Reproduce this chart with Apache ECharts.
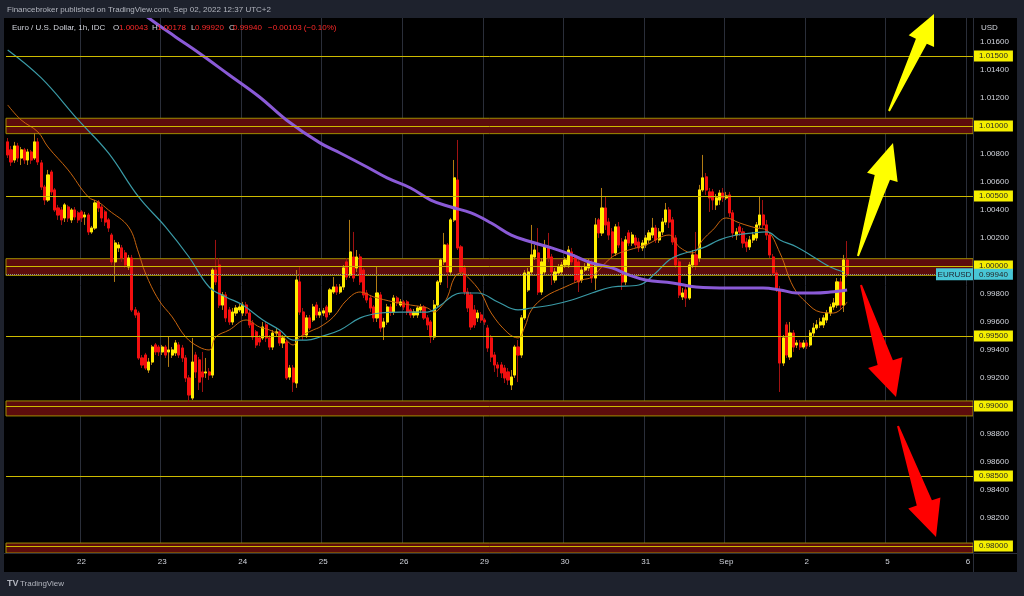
<!DOCTYPE html>
<html><head><meta charset="utf-8">
<script src="https://cdn.jsdelivr.net/npm/echarts@6/dist/echarts.min.js"></script>
<style>html,body{margin:0;padding:0;background:#1e222d;}#c{width:1024px;height:596px;}</style>
</head><body><div id="c"></div>
<script>
// ---- data ----
const dayLabels = ['19','22','23','24','25','26','29','30','31','Sep','2','5','6'];
const firstHour = 2;
const slotCount = 288;
// hourly candles: [open, close, low, high]
const eurusd = [
[1.00886,1.00793,1.00771,1.00914],[1.00829,1.00743,1.00714,1.00857],[1.00757,1.00857,1.00736,1.00886],[1.00857,1.00771,1.00743,1.00879],[1.00771,1.00829,1.00721,1.00850],
[1.00829,1.00757,1.00729,1.00843],[1.00757,1.00814,1.00721,1.00836],[1.00814,1.00757,1.00729,1.00829],[1.00771,1.00886,1.00757,1.00950],[1.00886,1.00743,1.00721,1.00914],
[1.00736,1.00564,1.00543,1.00757],[1.00564,1.00471,1.00436,1.00579],[1.00471,1.00650,1.00457,1.00686],[1.00671,1.00529,1.00507,1.00686],[1.00543,1.00400,1.00386,1.00557],
[1.00414,1.00364,1.00329,1.00436],[1.00400,1.00329,1.00293,1.00421],[1.00343,1.00436,1.00314,1.00450],[1.00421,1.00343,1.00314,1.00436],[1.00329,1.00400,1.00307,1.00414],
[1.00400,1.00350,1.00329,1.00421],[1.00379,1.00329,1.00307,1.00393],[1.00386,1.00343,1.00314,1.00400],[1.00350,1.00364,1.00293,1.00386],[1.00364,1.00243,1.00221,1.00379],
[1.00243,1.00271,1.00229,1.00286],[1.00271,1.00450,1.00257,1.00471],[1.00457,1.00414,1.00386,1.00471],[1.00421,1.00343,1.00314,1.00436],[1.00386,1.00314,1.00286,1.00400],
[1.00329,1.00271,1.00243,1.00343],[1.00221,1.00029,1.00007,1.00236],[1.00029,1.00164,0.99886,1.00186],[1.00129,1.00150,1.00100,1.00171],[1.00129,1.00057,1.00029,1.00150],
[1.00093,1.00007,0.99986,1.00114],[0.99993,1.00057,0.99971,1.00079],[1.00057,0.99686,0.99671,1.00079],[0.99686,0.99650,0.99629,0.99707],[0.99664,0.99343,0.99329,0.99679],
[0.99343,0.99293,0.99271,0.99364],[0.99364,0.99271,0.99257,0.99379],[0.99257,0.99314,0.99236,0.99343],[0.99314,0.99421,0.99293,0.99436],[0.99436,0.99386,0.99364,0.99450],
[0.99421,0.99386,0.99357,0.99436],[0.99386,0.99421,0.99364,0.99436],[0.99421,0.99364,0.99343,0.99436],[0.99386,0.99400,0.99279,0.99493],[0.99364,0.99400,0.99343,0.99421],
[0.99379,0.99450,0.99357,0.99471],[0.99436,0.99364,0.99343,0.99457],[0.99414,0.99343,0.99314,0.99436],[0.99343,0.99200,0.99171,0.99364],[0.99200,0.99079,0.99029,0.99221],
[0.99057,0.99314,0.99043,0.99486],[0.99364,0.99243,0.99200,0.99386],[0.99329,0.99171,0.99114,0.99350],[0.99243,0.99207,0.99100,0.99386],[0.99236,0.99243,0.99200,0.99343],
[0.99243,0.99221,0.99186,0.99271],[0.99221,0.99971,0.99200,0.99986],[0.99971,0.99886,0.99864,1.00186],[1.00007,0.99721,0.99700,1.00057],[0.99721,0.99793,0.99686,0.99814],
[0.99793,0.99629,0.99600,0.99814],[0.99686,0.99600,0.99579,0.99707],[0.99600,0.99671,0.99579,0.99700],[0.99664,0.99700,0.99643,0.99721],[0.99686,0.99707,0.99671,0.99729],
[0.99664,0.99721,0.99643,0.99743],[0.99721,0.99664,0.99643,0.99743],[0.99664,0.99579,0.99557,0.99686],[0.99593,0.99493,0.99471,0.99614],[0.99529,0.99436,0.99414,0.99543],
[0.99486,0.99457,0.99429,0.99507],[0.99486,0.99564,0.99471,0.99600],[0.99579,0.99486,0.99457,0.99600],[0.99486,0.99421,0.99400,0.99507],[0.99421,0.99521,0.99400,0.99543],
[0.99521,0.99529,0.99500,0.99557],[0.99529,0.99450,0.99429,0.99543],[0.99450,0.99486,0.99414,0.99507],[0.99457,0.99200,0.99186,0.99471],[0.99207,0.99271,0.99186,0.99293],
[0.99271,0.99171,0.99100,0.99293],[0.99164,0.99900,0.99129,0.99971],[0.99886,0.99671,0.99650,0.99993],[0.99671,0.99507,0.99471,0.99700],[0.99507,0.99629,0.99486,0.99650],
[0.99629,0.99557,0.99543,0.99650],[0.99614,0.99707,0.99600,0.99729],[0.99721,0.99650,0.99629,0.99743],[0.99650,0.99671,0.99629,0.99700],[0.99664,0.99679,0.99643,0.99700],
[0.99707,0.99636,0.99614,0.99721],[0.99671,0.99829,0.99650,0.99843],[0.99814,0.99850,0.99800,0.99921],[0.99850,0.99814,0.99793,0.99871],[0.99814,0.99850,0.99800,0.99871],
[0.99850,0.99986,0.99829,1.00007],[1.00029,0.99921,0.99900,1.00057],[0.99936,1.00100,0.99914,1.00329],[1.00064,0.99914,0.99886,1.00243],[0.99986,1.00064,0.99957,1.00114],
[1.00064,0.99886,0.99864,1.00086],[0.99971,0.99793,0.99771,0.99986],[0.99807,0.99757,0.99736,0.99829],[0.99771,0.99700,0.99671,0.99793],[0.99707,0.99629,0.99600,0.99721],
[0.99629,0.99807,0.99600,0.99993],[0.99793,0.99557,0.99529,0.99814],[0.99564,0.99600,0.99471,0.99629],[0.99600,0.99707,0.99579,0.99729],[0.99707,0.99671,0.99643,0.99729],
[0.99671,0.99771,0.99650,0.99793],[0.99771,0.99736,0.99714,0.99786],[0.99721,0.99743,0.99707,0.99764],[0.99743,0.99707,0.99686,0.99757],[0.99743,0.99671,0.99650,0.99757],
[0.99686,0.99650,0.99629,0.99700],[0.99650,0.99671,0.99629,0.99693],[0.99650,0.99700,0.99629,0.99714],[0.99686,0.99707,0.99664,0.99729],[0.99707,0.99629,0.99614,0.99721],
[0.99629,0.99579,0.99543,0.99650],[0.99600,0.99493,0.99450,0.99614],[0.99493,0.99721,0.99471,0.99757],[0.99721,0.99886,0.99700,0.99900],[0.99886,1.00043,0.99864,1.00057],
[1.00029,1.00150,1.00007,1.00236],[1.00150,0.99957,0.99843,1.00164],[0.99957,1.00329,0.99936,1.00343],[1.00329,1.00629,1.00314,1.00757],[1.00614,1.00129,1.00114,1.00900],
[1.00136,0.99957,0.99936,1.00150],[0.99986,0.99814,0.99793,1.00007],[0.99814,0.99700,0.99671,0.99843],[0.99793,0.99564,0.99543,0.99814],[0.99686,0.99579,0.99557,0.99721],
[0.99629,0.99664,0.99600,0.99686],[0.99650,0.99614,0.99593,0.99671],[0.99614,0.99600,0.99579,0.99629],[0.99557,0.99414,0.99386,0.99579],[0.99486,0.99350,0.99314,0.99507],
[0.99364,0.99293,0.99243,0.99386],[0.99293,0.99271,0.99207,0.99314],[0.99293,0.99236,0.99200,0.99314],[0.99271,0.99200,0.99164,0.99293],[0.99243,0.99186,0.99150,0.99271],
[0.99150,0.99207,0.99114,0.99257],[0.99221,0.99421,0.99200,0.99436],[0.99421,0.99364,0.99171,0.99471],[0.99364,0.99629,0.99343,0.99650],[0.99629,0.99950,0.99614,0.99971],
[0.99829,0.99957,0.99814,0.99986],[0.99957,1.00079,0.99936,1.00293],[1.00064,1.00114,1.00043,1.00150],[1.00093,0.99814,0.99793,1.00271],[0.99814,1.00029,0.99793,1.00057],
[0.99957,1.00136,0.99936,1.00186],[1.00136,1.00057,1.00029,1.00236],[1.00064,0.99957,0.99864,1.00086],[0.99900,0.99957,0.99879,0.99986],[0.99950,0.99993,0.99929,1.00014],
[0.99957,1.00007,0.99936,1.00029],[1.00007,1.00043,0.99986,1.00064],[1.00007,1.00114,0.99986,1.00143],[1.00100,1.00029,1.00007,1.00129],[1.00064,0.99900,0.99879,1.00086],
[1.00029,0.99886,0.99814,1.00057],[0.99900,0.99971,0.99879,1.00000],[0.99971,0.99993,0.99957,1.00021],[0.99986,1.00021,0.99964,1.00050],[1.00021,0.99914,0.99879,1.00043],
[0.99914,1.00293,0.99829,1.00343],[1.00329,1.00236,1.00200,1.00343],[1.00236,1.00414,1.00214,1.00557],[1.00414,1.00293,1.00257,1.00493],[1.00314,1.00221,1.00186,1.00343],
[1.00243,1.00093,1.00057,1.00271],[1.00093,1.00279,1.00071,1.00300],[1.00279,1.00150,1.00129,1.00314],[1.00171,0.99886,0.99829,1.00200],[0.99886,1.00186,0.99864,1.00214],
[1.00236,1.00164,1.00143,1.00257],[1.00164,1.00221,1.00143,1.00243],[1.00200,1.00150,1.00129,1.00221],[1.00171,1.00129,1.00100,1.00200],[1.00129,1.00164,1.00107,1.00186],
[1.00150,1.00200,1.00129,1.00221],[1.00186,1.00236,1.00164,1.00257],[1.00221,1.00271,1.00200,1.00343],[1.00271,1.00186,1.00164,1.00293],[1.00186,1.00243,1.00164,1.00271],
[1.00243,1.00314,1.00221,1.00343],[1.00314,1.00400,1.00293,1.00450],[1.00400,1.00314,1.00271,1.00421],[1.00329,1.00171,1.00150,1.00350],[1.00200,1.00007,0.99986,1.00221],
[1.00029,0.99793,0.99771,1.00057],[0.99779,0.99807,0.99757,0.99843],[0.99829,0.99771,0.99707,0.99857],[0.99771,1.00007,0.99757,1.00029],[1.00007,1.00079,0.99986,1.00114],
[1.00079,1.00007,0.99971,1.00243],[1.00057,1.00543,1.00029,1.00579],[1.00543,1.00629,1.00529,1.00793],[1.00636,1.00543,1.00507,1.00664],[1.00529,1.00486,1.00386,1.00557],
[1.00529,1.00471,1.00400,1.00550],[1.00436,1.00486,1.00400,1.00514],[1.00471,1.00521,1.00436,1.00543],[1.00521,1.00486,1.00457,1.00557],[1.00486,1.00500,1.00471,1.00529],
[1.00507,1.00379,1.00350,1.00529],[1.00379,1.00236,1.00200,1.00400],[1.00221,1.00243,1.00186,1.00271],[1.00279,1.00243,1.00214,1.00300],[1.00243,1.00164,1.00129,1.00271],
[1.00171,1.00136,1.00100,1.00200],[1.00136,1.00186,1.00114,1.00214],[1.00186,1.00221,1.00164,1.00243],[1.00200,1.00293,1.00179,1.00314],[1.00293,1.00364,1.00271,1.00493],
[1.00364,1.00293,1.00271,1.00471],[1.00293,1.00221,1.00186,1.00329],[1.00221,1.00079,1.00057,1.00243],[1.00064,0.99950,0.99929,1.00086],[0.99950,0.99843,0.99814,0.99971],
[0.99829,0.99307,0.99100,0.99857],[0.99307,0.99486,0.99286,0.99507],[0.99579,0.99364,0.99343,0.99600],[0.99350,0.99521,0.99329,0.99600],[0.99521,0.99421,0.99386,0.99543],
[0.99436,0.99450,0.99414,0.99471],[0.99450,0.99421,0.99400,0.99471],[0.99421,0.99450,0.99407,0.99471],[0.99450,0.99429,0.99407,0.99471],[0.99436,0.99521,0.99421,0.99543],
[0.99521,0.99557,0.99500,0.99593],[0.99557,0.99579,0.99543,0.99614],[0.99579,0.99600,0.99557,0.99629],[0.99579,0.99629,0.99557,0.99650],[0.99614,0.99664,0.99593,0.99686],
[0.99664,0.99707,0.99643,0.99729],[0.99707,0.99736,0.99686,0.99771],[0.99721,0.99886,0.99700,0.99914],[0.99886,0.99721,0.99686,0.99914],[0.99721,1.00043,0.99671,1.00079],
[1.00043,0.99940,0.99920,1.00178]
];
// moving averages: [bar index, value]
const maFast = [[0,1.0115],[4,1.01043],[9,1.00957],[12,1.0085],[18,1.00686],[24,1.00493],[27,1.00457],[30,1.004],[36,1.00279],[39,1.00093],[41,0.9995],[45,0.99757],[49,0.99636],[53,0.99493],[57,0.99421],[60,0.994],[62,0.99493],[66,0.99543],[71,0.99614],[75,0.99564],[78,0.99543],[82,0.99493],[85,0.99436],[87,0.99493],[91,0.99543],[93,0.99564],[97,0.99636],[101,0.99757],[105,0.99814],[109,0.99779],[115,0.99743],[120,0.99721],[125,0.997],[127,0.99671],[129,0.99707],[131,0.99779],[133,0.99914],[135,0.9995],[137,0.99921],[141,0.99807],[144,0.99664],[149,0.99521],[152,0.99486],[154,0.99564],[156,0.99686],[160,0.99779],[166,0.9985],[171,0.999],[174,0.99921],[178,1.00021],[181,1.00079],[185,1.00114],[190,1.0015],[197,1.00221],[200,1.00136],[204,1.00093],[207,1.00186],[210,1.00257],[214,1.00343],[218,1.00307],[223,1.00271],[226,1.00257],[230,1.00093],[234,0.9985],[238,0.99736],[242,0.99671],[246,0.99664],[250,0.99743]];
const maMid = [[0,1.01543],[10,1.01343],[21,1.01043],[30,1.00807],[39,1.00493],[47,1.00279],[54,1.00064],[60,0.9985],[65,0.99779],[70,0.99721],[76,0.99614],[81,0.99543],[85,0.99471],[89,0.99471],[93,0.99493],[99,0.99543],[105,0.99629],[111,0.99664],[117,0.99671],[125,0.99671],[129,0.99721],[132,0.99779],[135,0.99807],[140,0.99807],[146,0.99743],[152,0.99686],[156,0.997],[162,0.99721],[168,0.99757],[174,0.99807],[180,0.9985],[188,0.99864],[193,0.9995],[197,1.00043],[200,1.00079],[207,1.00129],[212,1.00186],[217,1.00221],[222,1.00236],[226,1.00243],[230,1.00186],[235,1.00136],[240,1.00064],[245,0.99993],[249,0.99957]];
const maSlow = [[38,1.0185],[42,1.01771],[50,1.01636],[57,1.01521],[66,1.01364],[75,1.01207],[83,1.01043],[93,1.00879],[99,1.00807],[107,1.00707],[113,1.00629],[120,1.00557],[126,1.00471],[132,1.00421],[138,1.00379],[144,1.00307],[150,1.00221],[156,1.00171],[162,1.00129],[168,1.00079],[174,1.00021],[180,0.99986],[185,0.99936],[190,0.999],[198,0.99879],[205,0.9985],[215,0.99843],[225,0.99843],[230,0.99829],[235,0.99807],[240,0.99807],[245,0.99814],[250,0.99829]];
const levels = [1.015, 1.010, 1.005, 1.000, 0.995, 0.990, 0.985, 0.980];
const zones = [[1.01055, 1.00945], [1.00052, 0.99932], [0.99036, 0.98929], [0.98021, 0.9795]];
const tickValues = [1.016, 1.014, 1.012, 1.008, 1.006, 1.004, 1.002, 0.998, 0.996, 0.994, 0.992, 0.988, 0.986, 0.984, 0.982];
const lastPrice = 0.99940;
const header = {symbol: 'Euro / U.S. Dollar, 1h, IDC', o: '1.00043', h: '1.00178', l: '0.99920', c: '0.99940', chg: '\u22120.00103 (\u22120.10%)'};

// ---- build ----
const categories = [];
dayLabels.forEach((d, k) => {
  for (let hr = (k === 0 ? firstHour : 0); hr < 24 && categories.length < slotCount; hr++) categories.push(d + ' ' + hr + ':00');
});
const bodies = eurusd.map(r => [r[0], r[1], Math.min(r[0], r[1]), Math.max(r[0], r[1])]);

const FONT = '"Liberation Sans", Arial, sans-serif';
const AX = '#d1d4dc', BG = '#1e222d', SEP = '#2a2e39';
const YEL = '#f5ee00', LINE = '#cdbb00';
const FS = 8;

function arrowPts(x1, y1, x2, y2, hl, hw, sw) {
  const dx = x2 - x1, dy = y2 - y1, L = Math.hypot(dx, dy), ux = dx / L, uy = dy / L, nx = -uy, ny = ux;
  const bx = x2 - ux * hl, by = y2 - uy * hl;
  return [[x1 + nx, y1 + ny], [bx + nx * sw, by + ny * sw], [bx + nx * hw, by + ny * hw], [x2, y2],
          [bx - nx * hw, by - ny * hw], [bx - nx * sw, by - ny * sw], [x1 - nx, y1 - ny]];
}
function txt(x, y, s, fill, size, weight) {
  return {type: 'text', z: 110, silent: true,
    style: {x: x, y: y, text: s, fill: fill, font: (weight || 'normal') + ' ' + (size || FS) + 'px ' + FONT, verticalAlign: 'middle'}};
}
function lvlLabel(text, bg) {
  return {show: true, position: 'end', distance: 1, formatter: () => text,
    backgroundColor: bg, color: '#262626', fontSize: FS, fontFamily: FONT, padding: [2, 5, 1, 5]};
}

const chart = echarts.init(document.getElementById('c'), null, {renderer: 'canvas'});
const option = {
  animation: false,
  backgroundColor: '#000000',
  grid: {left: 6, right: 51, top: 18, bottom: 43},
  xAxis: {
    type: 'category', data: categories,
    axisLine: {show: false}, axisTick: {show: false},
    axisLabel: {color: AX, fontSize: FS, fontFamily: FONT, margin: 5,
      interval: (i, v) => / 0:00$/.test(v), formatter: v => v.split(' ')[0]},
    splitLine: {show: true, interval: (i, v) => / 0:00$/.test(v), lineStyle: {color: SEP, width: 1}}
  },
  yAxis: {
    type: 'value', position: 'right', min: 0.9795, max: 1.01771, scale: true,
    axisLine: {show: false}, axisTick: {show: false}, splitLine: {show: false},
    axisLabel: {customValues: tickValues, color: AX, fontSize: FS, fontFamily: FONT, margin: 7,
      formatter: v => v.toFixed(5)}
  },
  series: [
    {
      name: 'levels', type: 'line', data: [], z: 1, silent: true,
      markArea: {silent: true,
        itemStyle: {color: '#5c0c0c', borderColor: '#9e8c00', borderWidth: 1},
        data: zones.map(z => [{yAxis: z[0]}, {yAxis: z[1]}])},
      markLine: {silent: true, symbol: ['none', 'none'], animation: false, precision: 6,
        data: levels.map(v => ({yAxis: v, lineStyle: {color: LINE, width: 1, type: 'solid'},
          label: lvlLabel(v.toFixed(5), YEL)}))
          .concat([{yAxis: lastPrice, lineStyle: {color: '#8a8f98', width: 1, type: 'dotted'},
            label: lvlLabel(lastPrice.toFixed(5), '#48c6d6')}])}
    },
    {
      name: 'wicks', type: 'candlestick', data: eurusd, z: 2, barWidth: 2.6, silent: true,
      itemStyle: {color: '#b27c14', color0: '#a01212', borderColor: '#b27c14', borderColor0: '#a01212', borderWidth: 1}
    },
    {
      name: 'bodies', type: 'candlestick', data: bodies, z: 2, barWidth: 2.6, silent: true,
      itemStyle: {color: '#ffee00', color0: '#f20f0f', borderColor: '#ffee00', borderColor0: '#f20f0f', borderWidth: 1}
    },
    {name: 'MA fast', type: 'line', data: maFast, z: 3, smooth: 0.4, showSymbol: false, silent: true,
      lineStyle: {color: '#c8650e', width: 1}},
    {name: 'MA mid', type: 'line', data: maMid, z: 3, smooth: 0.4, showSymbol: false, silent: true,
      lineStyle: {color: '#3a9aa6', width: 1.2}},
    {name: 'MA slow', type: 'line', data: maSlow, z: 3, smooth: 0.4, showSymbol: false, silent: true,
      lineStyle: {color: '#8a5ad6', width: 3}}
  ],
  graphic: {elements: [
    {type: 'rect', z: 100, silent: true, shape: {x: 0, y: 0, width: 1024, height: 18}, style: {fill: BG}},
    {type: 'rect', z: 100, silent: true, shape: {x: 0, y: 572, width: 1024, height: 24}, style: {fill: BG}},
    {type: 'rect', z: 100, silent: true, shape: {x: 0, y: 0, width: 4, height: 596}, style: {fill: BG}},
    {type: 'rect', z: 100, silent: true, shape: {x: 1017, y: 0, width: 7, height: 596}, style: {fill: BG}},
    {type: 'line', z: 100, silent: true, shape: {x1: 973.5, y1: 18, x2: 973.5, y2: 572}, style: {stroke: SEP, lineWidth: 1}},
    {type: 'line', z: 100, silent: true, shape: {x1: 4, y1: 553.5, x2: 1017, y2: 553.5}, style: {stroke: SEP, lineWidth: 1}},
    txt(7, 9.5, 'Financebroker published on TradingView.com, Sep 02, 2022 12:37 UTC+2', '#b2b5be', 8),
    txt(12, 28, header.symbol, AX, 8),
    txt(113, 28, 'O', AX), txt(119, 28, header.o, '#ff2a2a'),
    txt(152, 28, 'H', AX), txt(157, 28, header.h, '#ff2a2a'),
    txt(191, 28, 'L', AX), txt(195, 28, header.l, '#ff2a2a'),
    txt(229, 28, 'C', AX), txt(233, 28, header.c, '#ff2a2a'),
    txt(268, 28, header.chg, '#ff2a2a'),
    txt(981, 28, 'USD', AX),
    txt(7, 584, 'TV', '#b2b5be', 9, 'bold'),
    txt(20, 584, 'TradingView', '#b2b5be', 8),
    {type: 'polygon', z: 105, silent: true, shape: {points: arrowPts(889, 111, 934, 14, 30, 14, 6)}, style: {fill: '#ffff00'}},
    {type: 'polygon', z: 105, silent: true, shape: {points: arrowPts(858, 256, 893, 143, 36, 16, 8)}, style: {fill: '#ffff00'}},
    {type: 'polygon', z: 105, silent: true, shape: {points: arrowPts(861, 285, 896, 397, 36, 18, 8)}, style: {fill: '#ff0000'}},
    {type: 'polygon', z: 105, silent: true, shape: {points: arrowPts(898, 426, 936, 537, 36, 17, 8)}, style: {fill: '#ff0000'}}
  ]}
};
chart.setOption(option);
const py = chart.convertToPixel({yAxisIndex: 0}, lastPrice);
chart.setOption({graphic: {elements: [
  {id: 'eu-bg', type: 'rect', z: 104, silent: true, shape: {x: 936, y: py - 6, width: 37, height: 12}, style: {fill: '#48c6d6'}},
  {id: 'eu-tx', type: 'text', z: 106, silent: true, style: {x: 954.5, y: py, text: 'EURUSD', fill: '#1e222d', font: FS + 'px ' + FONT, align: 'center', verticalAlign: 'middle'}}
]}});
</script></body></html>
